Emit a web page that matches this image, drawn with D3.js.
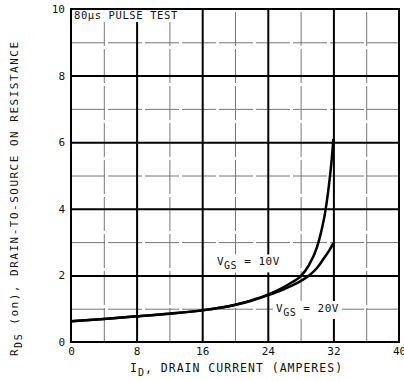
<!DOCTYPE html>
<html><head><meta charset="utf-8">
<script src="https://cdn.jsdelivr.net/npm/d3@7"></script>
<style>
body{margin:0;background:#fff;}
svg text{font-family:"DejaVu Sans Mono",monospace;fill:#111;}
</style></head>
<body><svg id="c" width="404" height="381"></svg>
<script>
// Data
const xTicks = [0, 8, 16, 24, 32, 40];
const yTicks = [0, 2, 4, 6, 8, 10];
const xMinor = [4, 12, 20, 28, 36];
const yMinor = [1, 3, 5, 7, 9];
const id10 = [0, 4, 8, 12, 16, 20, 22, 24, 25, 26, 27, 28, 29, 30, 30.5, 31, 31.5, 31.8, 32];
const r10  = [0.62, 0.69, 0.77, 0.85, 0.95, 1.12, 1.25, 1.42, 1.53, 1.66, 1.8, 1.97, 2.3, 2.85, 3.3, 3.9, 4.8, 5.5, 6.1];
const id20 = [0, 4, 8, 12, 16, 20, 22, 24, 25, 26, 27, 28, 29, 30, 30.8, 31.5, 32];
const r20  = [0.62, 0.69, 0.77, 0.85, 0.95, 1.11, 1.24, 1.4, 1.49, 1.59, 1.7, 1.83, 1.99, 2.22, 2.5, 2.75, 2.97];

const svg = d3.select("#c");
const L = 71, R = 399, T = 9, B = 342;
const x = d3.scaleLinear().domain([0, 40]).range([L, R]);
const y = d3.scaleLinear().domain([0, 10]).range([B, T]);

// minor grid
svg.append("g").attr("transform", `translate(0,${B})`)
  .call(d3.axisBottom(x).tickValues(xMinor).tickSize(-(B - T)).tickFormat(""))
  .call(g => g.select(".domain").remove())
  .call(g => g.selectAll("line").attr("stroke", "#777").attr("stroke-width", 1).attr("stroke-dasharray", "34,3"));
svg.append("g").attr("transform", `translate(${L},0)`)
  .call(d3.axisLeft(y).tickValues(yMinor).tickSize(-(R - L)).tickFormat(""))
  .call(g => g.select(".domain").remove())
  .call(g => g.selectAll("line").attr("stroke", "#777").attr("stroke-width", 1).attr("stroke-dasharray", "34,3"));

// major grid
svg.append("g").attr("transform", `translate(0,${B})`)
  .call(d3.axisBottom(x).tickValues(xTicks.slice(1, -1)).tickSize(-(B - T)).tickFormat(""))
  .call(g => g.select(".domain").remove())
  .call(g => g.selectAll("line").attr("stroke", "#000").attr("stroke-width", 2));
svg.append("g").attr("transform", `translate(${L},0)`)
  .call(d3.axisLeft(y).tickValues(yTicks.slice(1, -1)).tickSize(-(R - L)).tickFormat(""))
  .call(g => g.select(".domain").remove())
  .call(g => g.selectAll("line").attr("stroke", "#000").attr("stroke-width", 2));

// tick labels
svg.append("g").attr("transform", `translate(0,${B})`)
  .call(d3.axisBottom(x).tickValues(xTicks).tickSize(0).tickPadding(5))
  .call(g => g.select(".domain").remove())
  .call(g => g.selectAll("text").attr("font-size", 11).attr("font-family", "DejaVu Sans Mono"));
svg.append("g").attr("transform", `translate(${L},0)`)
  .call(d3.axisLeft(y).tickValues(yTicks).tickSize(0).tickPadding(6))
  .call(g => g.select(".domain").remove())
  .call(g => g.selectAll("text").attr("font-size", 11).attr("font-family", "DejaVu Sans Mono"));

// labels with white backgrounds
function label(xp, yp, main, sub, rest) {
  const g = svg.append("g");
  const bg = g.append("rect").attr("fill", "#fff");
  const t = g.append("text").attr("x", xp).attr("y", yp).attr("font-size", 11).attr("letter-spacing", 0.5);
  t.append("tspan").text(main);
  t.append("tspan").attr("dy", 4).attr("font-size", 10).text(sub);
  t.append("tspan").attr("dy", -4).text(rest);
  const b = t.node().getBBox();
  bg.attr("x", b.x - 3).attr("y", b.y - 1).attr("width", b.width + 6).attr("height", b.height + 2);
}
label(x(17.8), y(2.3), "V", "GS", " =  10V");
label(x(25.0), y(0.9), "V", "GS", " =  20V");

// top-left note
const nb = svg.append("rect").attr("fill", "#fff");
const note = svg.append("text").attr("x", L + 3).attr("y", T + 10).attr("font-size", 10.5).attr("letter-spacing", 0.6).text("80µs PULSE TEST");
const nbb = note.node().getBBox();
nb.attr("x", L + 1).attr("y", T + 1).attr("width", nbb.width + 3).attr("height", nbb.height);

// curves
const line = d3.line().x(d => x(d[0])).y(d => y(d[1])).curve(d3.curveMonotoneX);
const s10 = id10.map((v, i) => [v, r10[i]]);
const s20 = id20.map((v, i) => [v, r20[i]]);
svg.append("path").datum(s20).attr("d", line).attr("fill", "none").attr("stroke", "#000").attr("stroke-width", 2.5);
svg.append("path").datum(s10).attr("d", line).attr("fill", "none").attr("stroke", "#000").attr("stroke-width", 2.5);

// border
svg.append("rect").attr("x", L).attr("y", T).attr("width", R - L).attr("height", B - T)
  .attr("fill", "none").attr("stroke", "#000").attr("stroke-width", 2);

// axis titles
const xt = svg.append("text").attr("x", 130).attr("y", 372).attr("font-size", 11.5).attr("letter-spacing", 1);
xt.append("tspan").text("I");
xt.append("tspan").attr("dy", 4).attr("font-size", 10).text("D");
xt.append("tspan").attr("dy", -4).text(", DRAIN CURRENT (AMPERES)");

const yt = svg.append("text").attr("transform", "translate(18,356) rotate(-90)").attr("font-size", 11).attr("letter-spacing", 1.5);
yt.append("tspan").text("R");
yt.append("tspan").attr("dy", 4).attr("font-size", 10).text("DS");
yt.append("tspan").attr("dy", -4).text(" (on), DRAIN-TO-SOURCE ON RESISTANCE");
</script></body></html>
